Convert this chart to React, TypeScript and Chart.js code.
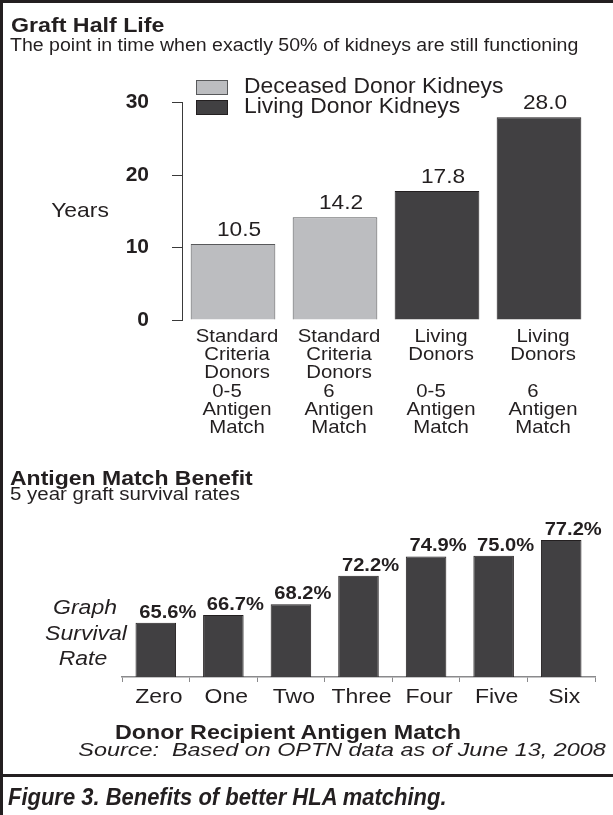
import React, { useEffect, useRef } from "react";
import { Chart, registerables } from "chart.js";

Chart.register(...registerables);

// ---------- data ----------
const halfLifeCategories: string[][] = [
  ["Standard", "Criteria", "Donors", "0-5", "Antigen", "Match"],
  ["Standard", "Criteria", "Donors", "6", "Antigen", "Match"],
  ["Living", "Donors", "", "0-5", "Antigen", "Match"],
  ["Living", "Donors", "", "6", "Antigen", "Match"],
];
const seriesNames = ["Deceased Donor Kidneys", "Living Donor Kidneys"];
const deceasedValues = [10.5, 14.2, null, null];
const livingValues = [null, null, 17.8, 28.0];
const halfLifeTicks = [0, 10, 20, 30];

const matchCategories = ["Zero", "One", "Two", "Three", "Four", "Five", "Six"];
const survivalValues = [65.6, 66.7, 68.2, 72.2, 74.9, 75.0, 77.2];

// ---------- style ----------
const INK = "#231f20";
const LIGHT = "#bcbdc0";
const DARK = "#414042";
const AXIS_GRAY = "#8a8a8c";
const FONT = '"Liberation Sans", Arial, Helvetica, sans-serif';

function drawText(
  ctx: CanvasRenderingContext2D,
  text: string,
  x: number,
  y: number,
  font: string,
  sx: number,
  align: CanvasTextAlign
) {
  ctx.save();
  ctx.font = font;
  ctx.fillStyle = INK;
  ctx.textBaseline = "middle";
  ctx.textAlign = align;
  ctx.translate(x, y);
  ctx.scale(sx, 1);
  ctx.fillText(text, 0, 0);
  ctx.restore();
}

function TopChart() {
  const ref = useRef<HTMLCanvasElement | null>(null);
  useEffect(() => {
    const canvas = ref.current!;
    const labelPlugin = {
      id: "topLabels",
      afterDatasetsDraw(chart: any) {
        const ctx = chart.ctx as CanvasRenderingContext2D;
        // value labels
        chart.data.datasets.forEach((ds: any, di: number) => {
          const meta = chart.getDatasetMeta(di);
          meta.data.forEach((bar: any, i: number) => {
            const v = ds.data[i];
            if (v == null) return;
            drawText(ctx, v.toFixed(1), bar.x + 6, bar.y - 13.5, `21px ${FONT}`, 1.08, "center");
          });
        });
        // category labels (multi-line)
        const xs = chart.scales.x;
        const base = chart.chartArea.bottom;
        chart.data.labels.forEach((lines: string[], i: number) => {
          const cx = xs.getPixelForValue(i) + 4;
          lines.forEach((line, li) => {
            if (!line) return;
            const dx = li === 3 ? -10 : 0;
            drawText(ctx, line, cx + dx, base + 17 + li * 18.2, `18.5px ${FONT}`, 1.1, "center");
          });
        });
        // legend
        chart.data.datasets.forEach((ds: any, di: number) => {
          const y = 80 + di * 20;
          ctx.save();
          ctx.fillStyle = ds.backgroundColor;
          ctx.fillRect(196, y, 32, 15);
          ctx.strokeStyle = ds.borderColor;
          ctx.lineWidth = 1;
          ctx.strokeRect(196.5, y + 0.5, 31, 14);
          ctx.restore();
          drawText(ctx, ds.label, 244, y + 7, `22px ${FONT}`, 1.04, "left");
        });
      },
    };
    const chart = new Chart(canvas, {
      type: "bar",
      data: {
        labels: halfLifeCategories,
        datasets: [
          {
            label: seriesNames[0],
            data: deceasedValues,
            backgroundColor: LIGHT,
            borderColor: "#58595b",
            borderWidth: 1,
            grouped: false,
            barPercentage: 0.83,
            categoryPercentage: 1,
          } as any,
          {
            label: seriesNames[1],
            data: livingValues,
            backgroundColor: DARK,
            borderColor: INK,
            borderWidth: 1,
            grouped: false,
            barPercentage: 0.83,
            categoryPercentage: 1,
          } as any,
        ],
      },
      options: {
        animation: false,
        responsive: false,
        events: [],
        layout: { padding: { left: 0, top: 102.7, right: 23, bottom: 0 } },
        plugins: { legend: { display: false }, tooltip: { enabled: false } },
        scales: {
          x: {
            grid: { display: false, drawTicks: false },
            border: { display: false },
            ticks: { display: false },
            afterFit: (s: any) => {
              s.height = 130;
            },
          },
          y: {
            min: 0,
            max: 30,
            afterBuildTicks: (s: any) => {
              s.ticks = halfLifeTicks.map((v) => ({ value: v }));
            },
            grid: { display: true, drawOnChartArea: false, drawTicks: true, tickLength: 10, color: "#3a3a3a" },
            border: { display: true, color: "#3a3a3a", width: 1 },
            ticks: {
              color: INK,
              font: { family: FONT, size: 21, weight: "bold" },
              padding: 23,
            },
            afterFit: (s: any) => {
              s.width = 182;
            },
          },
        },
      },
      plugins: [labelPlugin],
    } as any);
    return () => chart.destroy();
  }, []);
  return (
    <canvas
      ref={ref}
      width={613}
      height={450}
      style={{ position: "absolute", left: 0, top: 0, width: 613, height: 450 }}
    />
  );
}

function BottomChart() {
  const ref = useRef<HTMLCanvasElement | null>(null);
  useEffect(() => {
    const canvas = ref.current!;
    const labelPlugin = {
      id: "bottomLabels",
      afterDraw(chart: any) {
        const ctx = chart.ctx as CanvasRenderingContext2D;
        const ds = chart.data.datasets[0];
        chart.getDatasetMeta(0).data.forEach((bar: any, i: number) => {
          const v = ds.data[i];
          drawText(ctx, v.toFixed(1) + "%", bar.x + 12, bar.y - 10, `bold 18px ${FONT}`, 1.12, "center");
        });
        const xs = chart.scales.x;
        const base = chart.chartArea.bottom;
        chart.data.labels.forEach((lab: string, i: number) => {
          drawText(ctx, lab, xs.getPixelForValue(i) + 3, base + 20, `20px ${FONT}`, 1.15, "center");
        });
      },
    };
    const chart = new Chart(canvas, {
      type: "bar",
      data: {
        labels: matchCategories,
        datasets: [
          {
            label: "5 year graft survival rates",
            data: survivalValues,
            backgroundColor: DARK,
            borderColor: INK,
            borderWidth: 1,
            barPercentage: 0.6,
            categoryPercentage: 1,
          },
        ],
      },
      options: {
        animation: false,
        responsive: false,
        events: [],
        layout: { padding: { left: 122, top: 70.1, right: 18, bottom: 0 } },
        plugins: { legend: { display: false }, tooltip: { enabled: false } },
        scales: {
          x: {
            grid: {
              display: true,
              drawOnChartArea: false,
              drawTicks: true,
              tickLength: 5,
              color: AXIS_GRAY,
              offset: true,
            },
            border: { display: true, color: AXIS_GRAY, width: 1.5 },
            ticks: { display: false },
            afterFit: (s: any) => {
              s.height = 53;
            },
          },
          y: {
            display: false,
            min: 58,
            max: 80,
          },
        },
      },
      plugins: [labelPlugin],
    } as any);
    return () => chart.destroy();
  }, []);
  return (
    <canvas
      ref={ref}
      width={613}
      height={280}
      style={{ position: "absolute", left: 0, top: 450, width: 613, height: 280 }}
    />
  );
}

function Txt(props: {
  x: number;
  y: number;
  size: number;
  sx?: number;
  bold?: boolean;
  italic?: boolean;
  align?: "left" | "center" | "right";
  children: React.ReactNode;
}) {
  const { x, y, size, sx = 1, bold, italic, align = "left", children } = props;
  const style: React.CSSProperties = {
    position: "absolute",
    top: y - size / 2,
    fontFamily: FONT,
    fontSize: size,
    lineHeight: 1,
    fontWeight: bold ? "bold" : "normal",
    fontStyle: italic ? "italic" : "normal",
    color: INK,
    whiteSpace: "pre",
  };
  if (align === "left") {
    style.left = x;
    style.transform = `scaleX(${sx})`;
    style.transformOrigin = "left center";
  } else if (align === "right") {
    style.right = 613 - x;
    style.transform = `scaleX(${sx})`;
    style.transformOrigin = "right center";
  } else {
    style.left = x;
    style.transform = `translateX(-50%) scaleX(${sx})`;
  }
  return <div style={style}>{children}</div>;
}

export default function App() {
  return (
    <div
      style={{
        position: "absolute",
        left: 0,
        top: 0,
        width: 613,
        height: 815,
        background: "#fff",
        overflow: "hidden",
      }}
    >
      <TopChart />
      <BottomChart />
      {/* frame */}
      <div style={{ position: "absolute", left: 0, top: 0, width: 613, height: 3, background: INK }} />
      <div style={{ position: "absolute", left: 0, top: 0, width: 3, height: 815, background: INK }} />
      <div style={{ position: "absolute", left: 0, top: 774, width: 613, height: 3, background: INK }} />

      <Txt x={11} y={25} size={20} sx={1.16} bold>Graft Half Life</Txt>
      <Txt x={10} y={46} size={17.5} sx={1.117}>The point in time when exactly 50% of kidneys are still functioning</Txt>
      <Txt x={80} y={209} size={21} sx={1.09} align="center">Years</Txt>

      <Txt x={10} y={478} size={20} sx={1.15} bold>Antigen Match Benefit</Txt>
      <Txt x={10} y={495} size={17.5} sx={1.17}>5 year graft survival rates</Txt>
      <Txt x={85} y={608} size={19.5} sx={1.18} italic align="center">Graph</Txt>
      <Txt x={86} y={634} size={19.5} sx={1.18} italic align="center">Survival</Txt>
      <Txt x={83} y={659} size={19.5} sx={1.18} italic align="center">Rate</Txt>

      <Txt x={115} y={732} size={20} sx={1.165} bold>Donor Recipient Antigen Match</Txt>
      <Txt x={606} y={749} size={19} sx={1.23} italic align="right">Source:  Based on OPTN data as of June 13, 2008</Txt>
      <Txt x={8} y={797} size={23} sx={0.955} bold italic>Figure 3. Benefits of better HLA matching.</Txt>
    </div>
  );
}
